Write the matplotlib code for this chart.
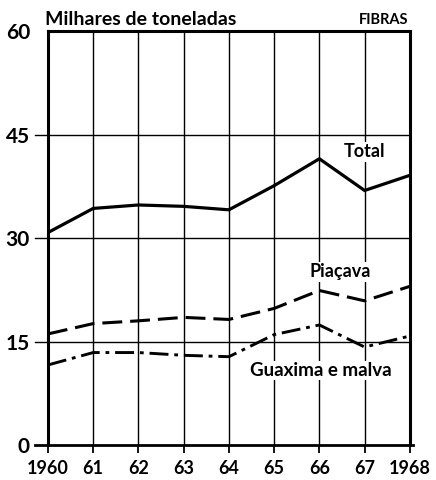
import matplotlib
matplotlib.use("Agg")
import matplotlib.pyplot as plt

years = [1960, 1961, 1962, 1963, 1964, 1965, 1966, 1967, 1968]
year_labels = ['1960', '61', '62', '63', '64', '65', '66', '67', '1968']
total = [30.8, 34.3, 34.8, 34.6, 34.1, 37.6, 41.5, 36.9, 39.1]
piacava = [16.1, 17.6, 18.0, 18.5, 18.2, 19.8, 22.4, 20.9, 23.0]
guaxima = [11.6, 13.4, 13.4, 13.0, 12.8, 16.0, 17.4, 14.2, 15.8]
yticks = [0, 15, 30, 45, 60]

plt.rcParams['font.family'] = ['Lato', 'DejaVu Sans']
plt.rcParams['font.weight'] = 'bold'

fig = plt.figure(figsize=(4.36, 4.8), dpi=100)
ax = fig.add_axes([0.110, 0.073, 0.830, 0.862])
ax.set_xlim(1960, 1968)
ax.set_ylim(0, 60)

# grid
for yr in years[1:-1]:
    ax.axvline(yr, color='black', lw=1.0, zorder=1)
for v in [15, 30, 45]:
    ax.axhline(v, xmin=-0.036, xmax=1, color='black', lw=1.0, clip_on=False, zorder=1)
ax.axhline(0, xmin=-0.036, xmax=1.01, color='black', lw=2.0, clip_on=False, zorder=3)

ax.plot(years, total, color='black', lw=2.3, solid_joinstyle='miter', zorder=4)
ax.plot(years, piacava, color='black', lw=2.2, dashes=(6.5, 2.6), zorder=4)
ax.plot(years, guaxima, color='black', lw=2.1, dashes=(6.5, 2.0, 1.3, 2.0), zorder=4)

for side in ['left', 'right', 'top']:
    ax.spines[side].set_linewidth(2.2)
ax.spines['bottom'].set_visible(False)

ax.set_xticks(years)
ax.set_xticklabels(year_labels, fontsize=13, fontweight='bold')
ax.tick_params(axis='x', length=6, width=1.3, pad=5)
ax.set_yticks(yticks)
ax.set_yticklabels([str(t) for t in yticks], fontsize=15, fontweight='bold')
ax.tick_params(axis='y', length=0, pad=13)

ax.text(-0.008, 1.008, 'Milhares de toneladas', transform=ax.transAxes, fontsize=14,
        fontweight='bold', ha='left', va='bottom')
ax.text(0.995, 1.01, 'FIBRAS', transform=ax.transAxes, fontsize=10.5,
        fontweight='bold', ha='right', va='bottom')

ax.text(1967.0, 42.5, 'Total', fontsize=13, fontweight='bold', ha='center', va='center',
        bbox=dict(facecolor='white', edgecolor='none', pad=1))
ax.text(1966.45, 25.1, 'Piaçava', fontsize=13, fontweight='bold', ha='center', va='center',
        bbox=dict(facecolor='white', edgecolor='none', pad=1))
ax.text(1966.03, 10.8, 'Guaxima e malva', fontsize=13.5, fontweight='bold', ha='center', va='center',
        bbox=dict(facecolor='white', edgecolor='none', pad=1), zorder=5)

fig.savefig('out.png', dpi=100)
